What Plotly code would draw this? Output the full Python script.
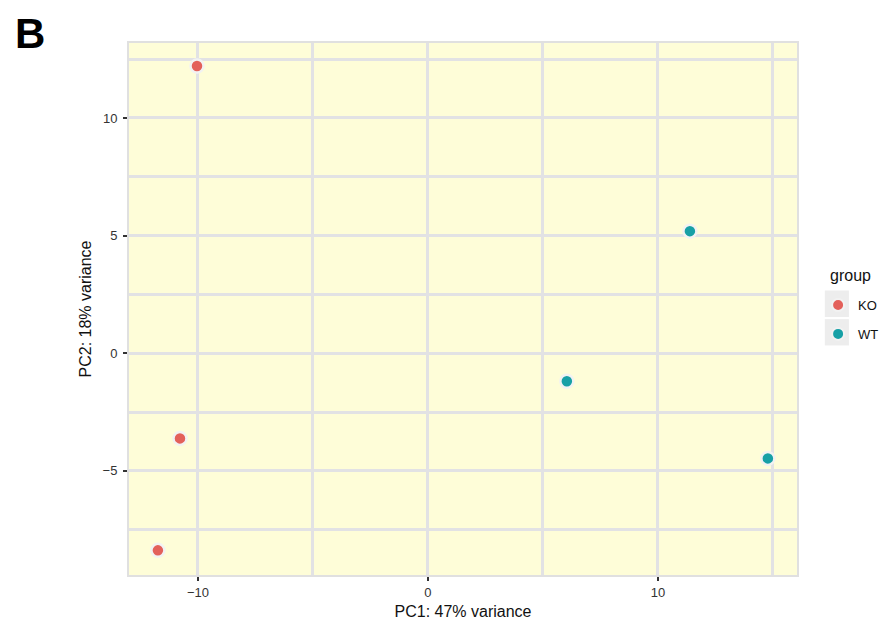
import plotly.graph_objects as go

groups = ["KO", "WT"]
ko_pc1 = [-10.04, -10.78, -11.74]
ko_pc2 = [12.21, -3.62, -8.38]
wt_pc1 = [11.39, 6.04, 14.78]
wt_pc2 = [5.19, -1.19, -4.47]
colors = {"KO": "#E3605A", "WT": "#17A0A6"}

x_ticks = [-10, 0, 10]
y_ticks = [-5, 0, 5, 10]

FONT = "Liberation Sans, Arial"

fig = go.Figure()
for name, xs, ys in [("KO", ko_pc1, ko_pc2), ("WT", wt_pc1, wt_pc2)]:
    fig.add_trace(go.Scatter(
        x=xs, y=ys, mode="markers", name=name, legendgroup=name,
        marker=dict(size=13, color=colors[name], line=dict(color="#F2F2F2", width=2.5)),
    ))

grid_col = "#E2E2E4"
axis_common = dict(
    showgrid=True, gridcolor=grid_col, gridwidth=3,
    zeroline=False, showline=False, automargin=False,
    ticks="outside", ticklen=4, tickwidth=1.5, tickcolor="#333333",
    tickfont=dict(family=FONT, size=13, color="#333333"),
)

fig.update_xaxes(
    range=[-13.04, 16.09], tickvals=x_ticks,
    minor=dict(dtick=5, tick0=0, showgrid=True, gridcolor=grid_col, gridwidth=3, ticks=""),
    title=dict(text="PC1: 47% variance", font=dict(family=FONT, size=16, color="#111111"), standoff=11),
    **axis_common,
)
fig.update_yaxes(
    range=[-9.47, 13.23], tickvals=y_ticks, ticklabelstandoff=3,
    minor=dict(dtick=5, tick0=2.5, showgrid=True, gridcolor=grid_col, gridwidth=3, ticks=""),
    title=dict(text="PC2: 18% variance", font=dict(family=FONT, size=16, color="#111111"), standoff=6),
    **axis_common,
)

fig.add_shape(type="rect", xref="paper", yref="paper", x0=0, y0=0, x1=1, y1=1,
              line=dict(color="#E0E0E0", width=2), fillcolor="rgba(0,0,0,0)", layer="above")

# legend key backgrounds
for y0, y1 in [(0.485, 0.5346), (0.4317, 0.481)]:
    fig.add_shape(type="rect", xref="paper", yref="paper", x0=1.040, x1=1.076, y0=y0, y1=y1,
                  line=dict(width=0), fillcolor="#EDEDED", layer="below")

fig.add_annotation(text="<b>B</b>", xref="paper", yref="paper", x=-0.146, y=1.0637,
                   xanchor="center", yanchor="top", showarrow=False,
                   font=dict(family=FONT, size=42, color="#000000"))
fig.add_annotation(text="group", xref="paper", yref="paper", x=1.0448, y=0.5618,
                   xanchor="left", yanchor="middle", showarrow=False,
                   font=dict(family=FONT, size=16, color="#111111"))

fig.update_layout(
    width=871, height=612,
    margin=dict(l=120, r=81, t=34, b=44, autoexpand=False),
    paper_bgcolor="white", plot_bgcolor="#FEFDD8",
    legend=dict(x=1.030, y=0.5355, xanchor="left", yanchor="top",
                font=dict(family=FONT, size=13, color="#111111"),
                bgcolor="rgba(0,0,0,0)", itemsizing="constant", tracegroupgap=9),
)

fig.write_html("out.html")
